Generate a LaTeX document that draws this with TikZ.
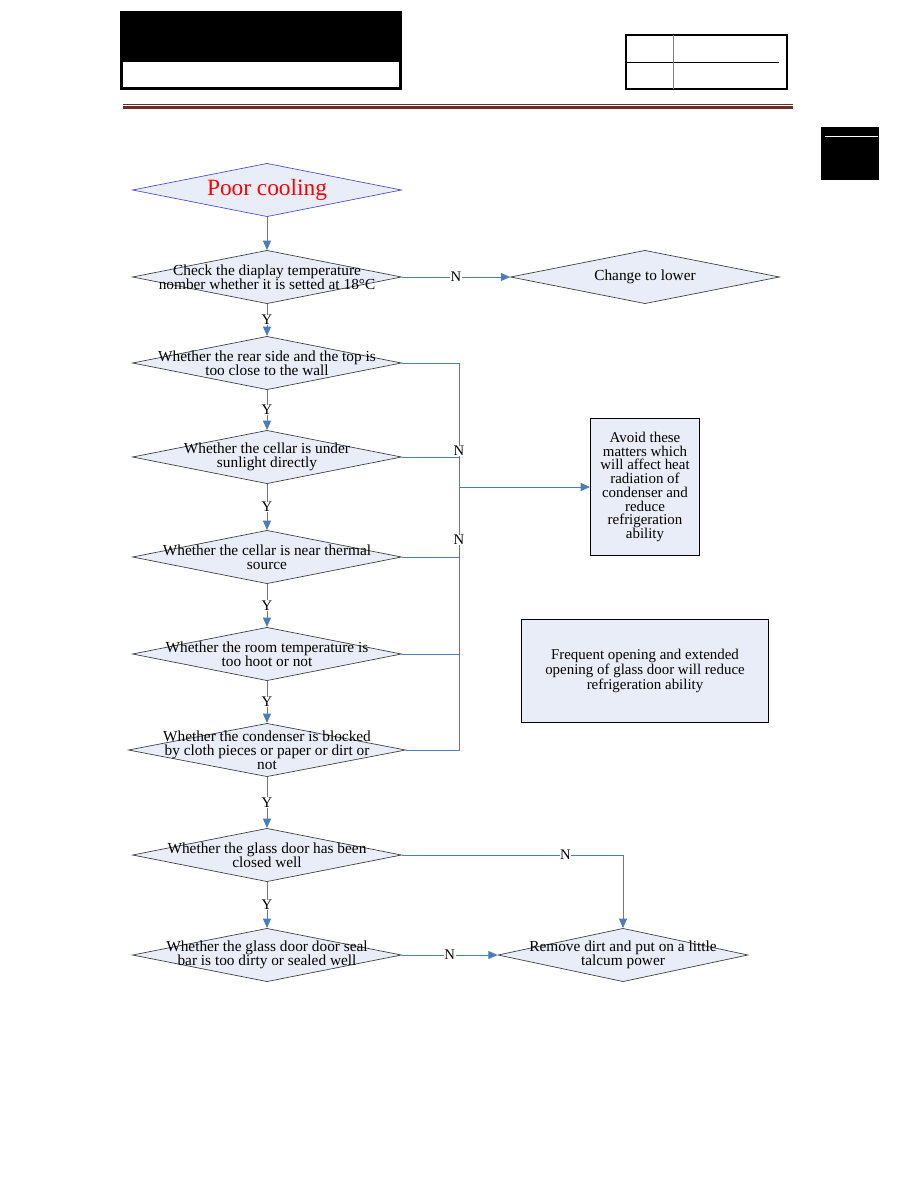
\documentclass[tikz,border=0pt]{standalone}
\usepackage{fontspec}
\setmainfont{Liberation Serif}
\usetikzlibrary{arrows.meta, positioning, shapes.geometric, calc}
\definecolor{cline}{HTML}{4A7EBB}
\definecolor{cfill}{HTML}{E9EDF7}
\definecolor{crule}{HTML}{6E2B2B}
\definecolor{cedge}{HTML}{3A3A3A}
\definecolor{cpc}{HTML}{4A4AC8}
\tikzset{
  every picture/.style={line width=0.75pt},
  dia/.style={diamond, draw=cedge, fill=cfill, line width=0.5pt, inner sep=0pt, minimum width=#1, minimum height=40pt},
  dia/.default=201.75pt,
  txt/.style={font=\fontsize{11.5}{10.5}\selectfont, align=center, inner sep=0pt},
  card/.style={draw=black, fill=cfill, line width=0.75pt, align=center, font=\fontsize{11.2}{10.3}\selectfont},
  arrow/.style={-{Triangle[length=7pt, width=6pt]}, draw=cline},
  link/.style={draw=cline},
  yn/.style={fill=white, inner sep=0.5pt, font=\fontsize{11}{11}\selectfont},
}

\begin{document}
\begin{tikzpicture}[x=0.75pt, y=-0.75pt]
  \useasboundingbox (0,0) rectangle (918,1188);
  % page header
  \fill (120,12) rectangle (401,62);
  \draw[line width=2.25pt] (121,13) rectangle (400,89);
  \draw[line width=1.5pt] (626,35) rectangle (787,89);
  \draw (626,63) -- (779,63);
  \draw[gray] (673,35) -- (673,89);
  \draw[crule] (123,104) -- (793,104);
  \draw[crule, line width=2.5pt] (123,107.5) -- (793,107.5);
  \fill (821,127) rectangle (879,180);
  \draw[white] (825,136) -- (878,136);

  % main column
  \node[dia, draw=cpc] (pc) at (267,190) {};
  \node[font=\fontsize{17.5}{17.5}\selectfont, text=red] (pct) at (pc) {Poor cooling};
  \node[dia, label={[txt]center:{Check the diaplay temperature\\nomber whether it is setted at 18\textdegree C}}] (d1) at (267,277) {};
  \node[dia, label={[txt]center:{Whether the rear side and the top is\\too close to the wall}}] (d2) at (267,363) {};
  \node[dia, label={[txt]center:{Whether the cellar is under\\sunlight directly}}] (d3) at (267,457) {};
  \node[dia, label={[txt]center:{Whether the cellar is near thermal\\source}}] (d4) at (267,557) {};
  \node[dia, label={[txt]center:{Whether the room temperature is\\too hoot or not}}] (d5) at (267,654) {};
  \node[dia=208pt, label={[txt]center:{Whether the condenser is blocked\\by cloth pieces or paper or dirt or\\not}}] (d6) at (267,750) {};
  \node[dia, label={[txt]center:{Whether the glass door has been\\closed well}}] (d7) at (267,855) {};
  \node[dia, label={[txt]center:{Whether the glass door door seal\\bar is too dirty or sealed well}}] (d8) at (267,955) {};

  % right side
  \node[dia, label={[txt]center:{Change to lower}}] (chg) at (645,277) {};
  \node[dia=187.5pt, label={[txt]center:{Remove dirt and put on a little\\talcum power}}] (rem) at (623,955) {};
  \node[card, minimum width=81.75pt, minimum height=102.75pt, inner sep=0pt] (avoid) at (645,487)
    {Avoid these\\matters which\\will affect heat\\radiation of\\condenser and\\reduce\\refrigeration\\ability};
  \node[card, minimum width=185pt, minimum height=77pt] (freq) at (645,671)
    {Frequent opening and extended\\opening of glass door will reduce\\refrigeration ability};

  % connectors
  \draw[arrow] (pc) -- (d1);
  \foreach \a/\b in {d1/d2, d2/d3, d3/d4, d4/d5, d5/d6, d6/d7, d7/d8}
    \draw[arrow] (\a) -- node[yn] {Y} (\b);
  \draw[arrow] (d1) -- node[yn] {N} (chg);
  \draw[arrow] (d8) -- node[yn] {N} (rem);
  \draw[arrow] (d7.east) -| node[yn, pos=0.37] {N} (rem.north);

  \coordinate (jn) at (459,487);
  \draw[link] (d2.east) -| (jn);
  \draw[link] (d6.east) -| (jn);
  \foreach \d in {d3, d4, d5}
    \draw[link] (\d.east) -- (\d.east -| jn);
  \draw[arrow] (jn) -- (avoid.west);
  \node[yn] (n3) at (459,451) {N};
  \node[yn] (n4) at (459,540) {N};
\end{tikzpicture}
\end{document}
